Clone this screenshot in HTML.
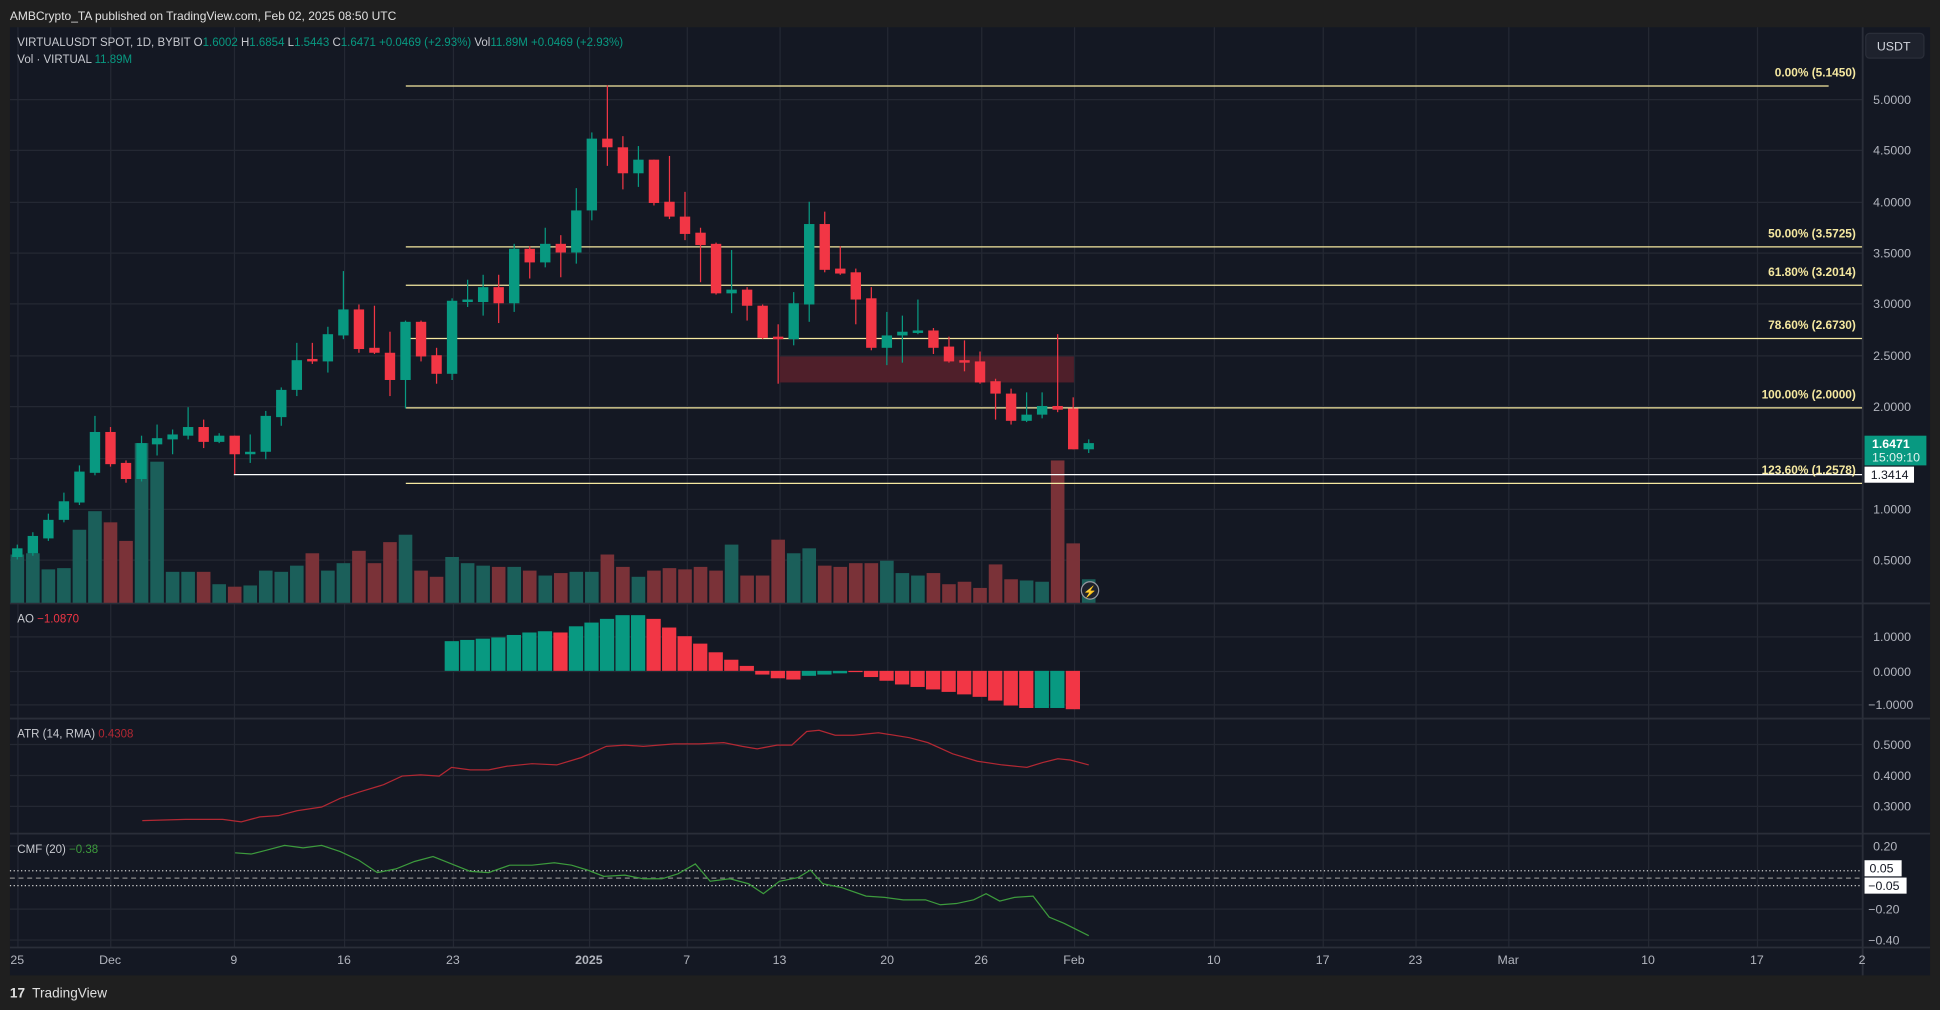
<!DOCTYPE html>
<html><head><meta charset="utf-8"><style>
html,body{margin:0;padding:0;background:#1e1e1e;width:1940px;height:1010px;overflow:hidden}
svg{display:block}
text{font-family:"Liberation Sans",sans-serif}
</style></head><body>
<svg id="s" width="1940" height="1010" viewBox="0 0 1568 816" preserveAspectRatio="none" xmlns="http://www.w3.org/2000/svg">
<rect x="0" y="0" width="1568" height="816" fill="#1f1f1f"/>
<rect x="8" y="22" width="1552" height="766" fill="#141823"/>
<g id="grid" stroke="#242833" stroke-width="1"></g>
<g stroke="#2a2e39" stroke-width="1.5">
<line x1="8" y1="487.5" x2="1560" y2="487.5"/>
<line x1="8" y1="580.5" x2="1560" y2="580.5"/>
<line x1="8" y1="673.5" x2="1560" y2="673.5"/>
<line x1="8" y1="765.5" x2="1560" y2="765.5"/>
<line x1="1505.5" y1="22" x2="1505.5" y2="788"/>
</g>
<g id="vol"></g>
<rect x="630" y="288" width="238" height="21" fill="#4f1f2a"/>
<g stroke="#f5e8a0" stroke-width="1">
<line x1="328" y1="69.5" x2="1478" y2="69.5"/>
<line x1="328" y1="199.5" x2="1505" y2="199.5"/>
<line x1="328" y1="230.5" x2="1505" y2="230.5"/>
<line x1="328" y1="273.5" x2="1505" y2="273.5"/>
<line x1="328" y1="329.5" x2="1505" y2="329.5"/>
<line x1="328" y1="390.5" x2="1505" y2="390.5"/>
</g>
<line x1="189" y1="383.5" x2="1505" y2="383.5" stroke="#ffffff" stroke-width="1"/>
<g font-size="9.6" fill="#f5e8a0" text-anchor="end" font-weight="bold">
<text x="1500" y="62">0.00% (5.1450)</text>
<text x="1500" y="192">50.00% (3.5725)</text>
<text x="1500" y="223">61.80% (3.2014)</text>
<text x="1500" y="266">78.60% (2.6730)</text>
<text x="1500" y="322">100.00% (2.0000)</text>
<text x="1500" y="383">123.60% (1.2578)</text>
</g>
<g id="candles"></g>
<g id="ao"></g>
<polyline fill="none" stroke="#b22833" stroke-width="1" points="115,663 150,662 180,662 195,664 210,660 225,659 240,655 260,652 275,645 290,640 310,634 325,627 340,626 355,627 365,620 380,622 395,622 410,619 430,617 450,618 470,612 490,603 505,602 520,603 545,601 565,601 585,600 600,603 612,605 628,602 640,602 652,591 662,590 675,594 690,594 710,592 735,596 750,600 770,609 790,615 810,618 830,620 843,616 855,613 865,614 880,618"/>
<g stroke="#d0d0d0" stroke-width="1" fill="none">
<line x1="8" y1="703.5" x2="1505" y2="703.5" stroke-dasharray="1,2"/>
<line x1="8" y1="715.5" x2="1505" y2="715.5" stroke-dasharray="1,2"/>
<line x1="8" y1="709.5" x2="1505" y2="709.5" stroke-dasharray="4,3" stroke="#888"/>
</g>
<polyline fill="none" stroke="#3d9b3d" stroke-width="1" points="190,689 203,690 215,687 230,683 245,685 260,683 275,688 290,695 305,705 320,702 335,696 350,692 365,698 380,704 395,705 412,699 430,699 448,697 462,699 475,703 488,708 505,707 520,710 535,710 548,706 562,698 574,712 590,710 605,714 617,722 630,712 645,709 655,703 665,714 680,717 700,724 715,725 730,727 748,727 760,731 773,730 787,727 797,722 808,728 820,725 835,724 848,741 860,746 880,756"/>
<g font-size="10" fill="#b2b5be">
<text x="1514" y="84">5.0000</text><text x="1514" y="125">4.5000</text><text x="1514" y="167">4.0000</text><text x="1514" y="208">3.5000</text><text x="1514" y="249">3.0000</text><text x="1514" y="291">2.5000</text><text x="1514" y="332">2.0000</text><text x="1514" y="415">1.0000</text><text x="1514" y="456">0.5000</text>
<text x="1514" y="518">1.0000</text><text x="1514" y="546">0.0000</text><text x="1510" y="573">−1.0000</text>
<text x="1514" y="605">0.5000</text><text x="1514" y="630">0.4000</text><text x="1514" y="655">0.3000</text>
<text x="1514" y="687">0.20</text><text x="1510" y="738">−0.20</text><text x="1510" y="763">−0.40</text>
</g>
<rect x="1507" y="695" width="30" height="13" fill="#fff"/><text x="1511" y="705" font-size="10" fill="#131722">0.05</text>
<rect x="1507" y="709" width="34" height="13" fill="#fff"/><text x="1510" y="719" font-size="10" fill="#131722">−0.05</text>
<rect x="1507" y="352" width="50" height="24" fill="#089981"/>
<text x="1513" y="362" font-size="10" fill="#fff" font-weight="bold">1.6471</text>
<text x="1513" y="373" font-size="10" fill="#e0f2ee">15:09:10</text>
<rect x="1507" y="377" width="40" height="13" fill="#fff"/>
<text x="1512" y="387" font-size="10" fill="#131722">1.3414</text>
<rect x="1508" y="27" width="47" height="20" rx="3" fill="#1e222d" stroke="#2a2e39"/>
<text x="1517" y="41" font-size="10" fill="#d1d4dc">USDT</text>
<g font-size="10" fill="#b2b5be" text-anchor="middle">
<text x="14" y="779">25</text><text x="89" y="779">Dec</text><text x="189" y="779">9</text><text x="278" y="779">16</text><text x="366" y="779">23</text><text x="476" y="779" font-weight="bold">2025</text><text x="555" y="779">7</text><text x="630" y="779">13</text><text x="717" y="779">20</text><text x="793" y="779">26</text><text x="868" y="779">Feb</text><text x="981" y="779">10</text><text x="1069" y="779">17</text><text x="1144" y="779">23</text><text x="1219" y="779">Mar</text><text x="1332" y="779">10</text><text x="1420" y="779">17</text><text x="1505" y="779">2</text>
</g>
<text x="8" y="16" font-size="9.7" fill="#e0e0e0">AMBCrypto_TA published on TradingView.com, Feb 02, 2025 08:50 UTC</text>
<text x="14" y="37" font-size="9.3" fill="#c8cad0">VIRTUALUSDT SPOT, 1D, BYBIT  O<tspan fill="#089981">1.6002</tspan>  H<tspan fill="#089981">1.6854</tspan>  L<tspan fill="#089981">1.5443</tspan>  C<tspan fill="#089981">1.6471  +0.0469 (+2.93%)</tspan>  Vol<tspan fill="#089981">11.89M  +0.0469 (+2.93%)</tspan></text>
<text x="14" y="51" font-size="9.3" fill="#c8cad0">Vol · VIRTUAL  <tspan fill="#089981">11.89M</tspan></text>
<text x="14" y="503" font-size="9.3" fill="#c8cad0">AO  <tspan fill="#f23645">−1.0870</tspan></text>
<text x="14" y="596" font-size="9.3" fill="#c8cad0">ATR (14, RMA)  <tspan fill="#b22833">0.4308</tspan></text>
<text x="14" y="689" font-size="9.3" fill="#c8cad0">CMF (20)  <tspan fill="#3d9b3d">−0.38</tspan></text>
<circle cx="881" cy="477" r="7" fill="#1e222d" stroke="#9598a1" stroke-width="1"/>
<text x="881" y="481" font-size="9" fill="#9598a1" text-anchor="middle">⚡</text>
<text x="8" y="806" font-size="11" fill="#e0e0e0" font-weight="bold">17</text>
<text x="26" y="806" font-size="11" fill="#e0e0e0">TradingView</text>
</svg>
<script>
var NS="http://www.w3.org/2000/svg";
function el(p,t,a){var e=document.createElementNS(NS,t);for(var k in a)e.setAttribute(k,a[k]);document.getElementById(p).appendChild(e);return e;}
var gy=[80,121,163,204,245,287,328,370,411,452,514,542,569,601,626,651,683,734,759];
gy.forEach(function(y){el("grid","line",{x1:8,x2:1505,y1:y+.5,y2:y+.5});});
[14,89,189,278,366,476,555,630,717,793,868,981,1069,1144,1219,1332,1420].forEach(function(x){el("grid","line",{x1:x+.5,x2:x+.5,y1:22,y2:765});});
var C=[
"g 443 450 440 452","g 433 447 430 449","g 420 435 415 437","g 405 420 398 422","g 381 406 376 408","g 349 382 336 384","r 349 375 345 377","r 374 387 372 390","g 358 387 352 389","g 354 359 343 368",
"g 351 355 347 367","g 345 352 329 355","r 345 357 339 362","g 352 357 350 358","r 352 367 352 383","g 365 367 351 374","g 336 365 332 371","g 315 337 313 344","g 291 315 277 320","r 290 292 277 294",
"g 270 292 264 301","g 250 271 219 274","r 250 282 246 285","r 281 285 247 286","r 285 307 268 320","g 260 307 259 330","r 260 288 259 292","r 287 302 281 310","g 243 302 241 307","g 242 244 226 248",
"g 232 244 222 255","r 232 245 222 261","g 201 245 197 252","r 201 212 199 225","g 197 212 184 216","r 197 204 190 224","g 170 204 152 213","g 112 170 107 178","r 112 119 69 134","r 119 140 110 153",
"g 129 140 118 151","r 129 164 129 166","r 163 175 126 177","r 175 189 155 194","r 188 198 184 228","r 197 237 196 238","g 234 237 202 253","r 234 247 232 259","r 247 273 246 274","r 272 274 262 310",
"g 245 274 236 279","g 181 246 163 260","r 181 218 171 220","r 217 221 199 222","r 220 242 217 262","r 241 281 232 283","g 271 281 252 295","g 268 271 255 293","g 267 269 242 270","r 267 281 265 286",
"r 280 292 272 293","r 291 293 275 300","r 292 309 284 310","r 308 318 306 339","r 318 340 314 343","g 335 340 317 341","g 328 335 317 338","r 328 331 270 333","r 330 363 321 363","g 358 363 355 366"];
var V=[448,447,460,459,428,413,422,437,358,373,462,462,462,472,474,473,461,462,457,447,461,455,445,455,438,432,461,466,450,455,457,458,458,461,465,463,462,462,448,458,466,461,459,460,458,461,440,465,465,436,447,443,457,458,455,455,453,463,465,463,472,470,475,456,468,469,470,372,439,468];
C.forEach(function(s,d){var a=s.split(" "),x=14+12.55*d,col=a[0]=="g"?"#089981":"#f23645";
el("vol","rect",{x:x-5.5,y:V[d],width:11,height:487-V[d],fill:a[0]=="g"?"#1b5f5a":"#7a3238"});
el("candles","line",{x1:x,x2:x,y1:+a[3],y2:+a[4],stroke:col,"stroke-width":1});
var t=+a[1],b=+a[2];if(b-t<1.5)b=t+1.5;
el("candles","rect",{x:x-4.2,y:t,width:8.4,height:b-t,fill:col});});
var A="g518 g517 g516 g515 g513 g511 g510 r511 g506 g503 g500 g497 g497 r500 r507 r514 r520 r527 r533 r538 r545 r548 r549 g546 g545 g544 r543 r547 r550 r553 r555 r557 r559 r561 r563 r566 r570 r572 g572 g572 r573".split(" ");
A.forEach(function(s,i){var d=i+28,x=14+12.55*d,v=+s.slice(1),col=s[0]=="g"?"#089981":"#f23645";
var y1=Math.min(v,542),y2=Math.max(v,542);if(y2-y1<1)y2=y1+1;
el("ao","rect",{x:x-6,y:y1,width:11.5,height:y2-y1,fill:col});});
</script>
</body></html>
